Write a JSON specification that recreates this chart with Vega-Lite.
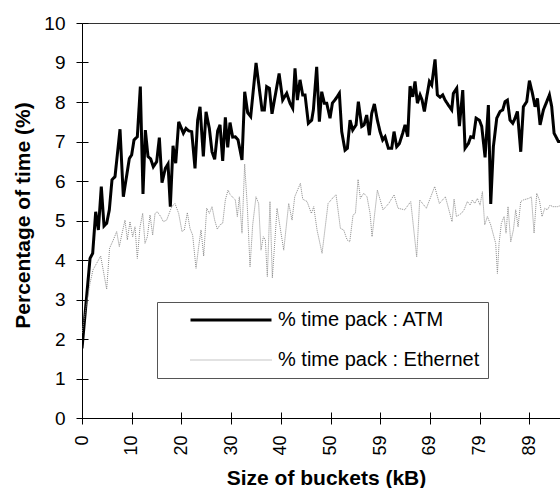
{
  "$schema": "https://vega.github.io/schema/vega-lite/v6.json",
  "width": 478,
  "height": 395,
  "autosize": {"type": "none"},
  "padding": {"left": 82, "top": 23, "right": 0, "bottom": 70},
  "background": "white",
  "config": {
    "view": {"stroke": null},
    "font": "Liberation Sans",
    "axis": {"domainColor": "#000000", "tickColor": "#000000", "labelColor": "#000000", "titleColor": "#000000", "grid": false, "labelFont": "Liberation Sans", "titleFont": "Liberation Sans"},
    "legend": {
      "orient": "none", "legendX": 75, "legendY": 279, "direction": "vertical",
      "fillColor": "#ffffff", "strokeColor": "#555555", "padding": 8,
      "symbolType": "stroke", "symbolSize": 6561, "clipHeight": 20, "rowPadding": 20,
      "symbolOffset": 24, "labelOffset": 5, "labelFontSize": 20, "labelFont": "Liberation Sans", "labelColor": "#000000", "labelLimit": 400
    }
  },
  "data": {"values": [
    {"series": "% time pack : ATM", "size": 0, "pct": 1.76},
    {"series": "% time pack : ATM", "size": 1.60, "pct": 4.04},
    {"series": "% time pack : ATM", "size": 2.13, "pct": 4.17},
    {"series": "% time pack : ATM", "size": 2.73, "pct": 5.22},
    {"series": "% time pack : ATM", "size": 3.26, "pct": 4.76},
    {"series": "% time pack : ATM", "size": 3.85, "pct": 5.86},
    {"series": "% time pack : ATM", "size": 4.39, "pct": 4.86},
    {"series": "% time pack : ATM", "size": 4.92, "pct": 4.93},
    {"series": "% time pack : ATM", "size": 5.45, "pct": 5.27},
    {"series": "% time pack : ATM", "size": 5.98, "pct": 6.03},
    {"series": "% time pack : ATM", "size": 6.58, "pct": 6.11},
    {"series": "% time pack : ATM", "size": 7.58, "pct": 7.31},
    {"series": "% time pack : ATM", "size": 8.24, "pct": 5.60},
    {"series": "% time pack : ATM", "size": 9.44, "pct": 6.57},
    {"series": "% time pack : ATM", "size": 9.90, "pct": 6.66},
    {"series": "% time pack : ATM", "size": 10.37, "pct": 7.04},
    {"series": "% time pack : ATM", "size": 11.03, "pct": 7.12},
    {"series": "% time pack : ATM", "size": 11.63, "pct": 8.39},
    {"series": "% time pack : ATM", "size": 12.16, "pct": 5.67},
    {"series": "% time pack : ATM", "size": 12.63, "pct": 7.29},
    {"series": "% time pack : ATM", "size": 13.16, "pct": 6.62},
    {"series": "% time pack : ATM", "size": 13.69, "pct": 6.56},
    {"series": "% time pack : ATM", "size": 14.22, "pct": 6.36},
    {"series": "% time pack : ATM", "size": 14.89, "pct": 6.49},
    {"series": "% time pack : ATM", "size": 15.42, "pct": 7.10},
    {"series": "% time pack : ATM", "size": 15.95, "pct": 5.96},
    {"series": "% time pack : ATM", "size": 16.62, "pct": 6.32},
    {"series": "% time pack : ATM", "size": 17.15, "pct": 6.43},
    {"series": "% time pack : ATM", "size": 17.61, "pct": 5.35},
    {"series": "% time pack : ATM", "size": 18.15, "pct": 6.89},
    {"series": "% time pack : ATM", "size": 18.68, "pct": 6.45},
    {"series": "% time pack : ATM", "size": 19.28, "pct": 7.50},
    {"series": "% time pack : ATM", "size": 20.21, "pct": 7.21},
    {"series": "% time pack : ATM", "size": 20.74, "pct": 7.33},
    {"series": "% time pack : ATM", "size": 21.27, "pct": 7.27},
    {"series": "% time pack : ATM", "size": 21.87, "pct": 7.25},
    {"series": "% time pack : ATM", "size": 22.53, "pct": 6.32},
    {"series": "% time pack : ATM", "size": 23.06, "pct": 7.54},
    {"series": "% time pack : ATM", "size": 23.53, "pct": 7.88},
    {"series": "% time pack : ATM", "size": 24.19, "pct": 6.62},
    {"series": "% time pack : ATM", "size": 24.73, "pct": 7.75},
    {"series": "% time pack : ATM", "size": 25.39, "pct": 7.33},
    {"series": "% time pack : ATM", "size": 25.92, "pct": 6.74},
    {"series": "% time pack : ATM", "size": 26.45, "pct": 6.55},
    {"series": "% time pack : ATM", "size": 27.05, "pct": 7.27},
    {"series": "% time pack : ATM", "size": 27.52, "pct": 7.42},
    {"series": "% time pack : ATM", "size": 28.05, "pct": 6.51},
    {"series": "% time pack : ATM", "size": 28.58, "pct": 7.61},
    {"series": "% time pack : ATM", "size": 29.05, "pct": 6.85},
    {"series": "% time pack : ATM", "size": 29.51, "pct": 7.48},
    {"series": "% time pack : ATM", "size": 30.04, "pct": 7.11},
    {"series": "% time pack : ATM", "size": 30.57, "pct": 7.12},
    {"series": "% time pack : ATM", "size": 31.11, "pct": 7.04},
    {"series": "% time pack : ATM", "size": 31.90, "pct": 6.53},
    {"series": "% time pack : ATM", "size": 32.44, "pct": 8.26},
    {"series": "% time pack : ATM", "size": 33.03, "pct": 7.73},
    {"series": "% time pack : ATM", "size": 33.63, "pct": 7.63},
    {"series": "% time pack : ATM", "size": 34.70, "pct": 8.99},
    {"series": "% time pack : ATM", "size": 35.89, "pct": 7.80},
    {"series": "% time pack : ATM", "size": 36.36, "pct": 7.80},
    {"series": "% time pack : ATM", "size": 36.82, "pct": 8.39},
    {"series": "% time pack : ATM", "size": 37.35, "pct": 8.35},
    {"series": "% time pack : ATM", "size": 37.88, "pct": 7.70},
    {"series": "% time pack : ATM", "size": 39.30, "pct": 8.72},
    {"series": "% time pack : ATM", "size": 40.01, "pct": 8.05},
    {"series": "% time pack : ATM", "size": 40.81, "pct": 8.22},
    {"series": "% time pack : ATM", "size": 41.47, "pct": 7.97},
    {"series": "% time pack : ATM", "size": 42.01, "pct": 7.84},
    {"series": "% time pack : ATM", "size": 42.47, "pct": 8.85},
    {"series": "% time pack : ATM", "size": 42.94, "pct": 8.05},
    {"series": "% time pack : ATM", "size": 43.47, "pct": 8.56},
    {"series": "% time pack : ATM", "size": 44.00, "pct": 8.18},
    {"series": "% time pack : ATM", "size": 44.47, "pct": 8.18},
    {"series": "% time pack : ATM", "size": 45.13, "pct": 7.46},
    {"series": "% time pack : ATM", "size": 45.79, "pct": 7.54},
    {"series": "% time pack : ATM", "size": 46.13, "pct": 7.80},
    {"series": "% time pack : ATM", "size": 46.79, "pct": 8.89},
    {"series": "% time pack : ATM", "size": 47.32, "pct": 7.50},
    {"series": "% time pack : ATM", "size": 47.79, "pct": 8.26},
    {"series": "% time pack : ATM", "size": 48.32, "pct": 7.97},
    {"series": "% time pack : ATM", "size": 48.79, "pct": 7.97},
    {"series": "% time pack : ATM", "size": 49.45, "pct": 7.59},
    {"series": "% time pack : ATM", "size": 49.92, "pct": 7.97},
    {"series": "% time pack : ATM", "size": 50.65, "pct": 8.09},
    {"series": "% time pack : ATM", "size": 51.31, "pct": 8.22},
    {"series": "% time pack : ATM", "size": 51.78, "pct": 7.25},
    {"series": "% time pack : ATM", "size": 52.44, "pct": 6.78},
    {"series": "% time pack : ATM", "size": 52.91, "pct": 6.83},
    {"series": "% time pack : ATM", "size": 53.44, "pct": 7.54},
    {"series": "% time pack : ATM", "size": 53.97, "pct": 7.29},
    {"series": "% time pack : ATM", "size": 54.64, "pct": 7.42},
    {"series": "% time pack : ATM", "size": 55.10, "pct": 8.01},
    {"series": "% time pack : ATM", "size": 55.77, "pct": 7.38},
    {"series": "% time pack : ATM", "size": 56.23, "pct": 7.42},
    {"series": "% time pack : ATM", "size": 56.76, "pct": 7.67},
    {"series": "% time pack : ATM", "size": 57.29, "pct": 7.16},
    {"series": "% time pack : ATM", "size": 57.76, "pct": 7.71},
    {"series": "% time pack : ATM", "size": 58.29, "pct": 7.95},
    {"series": "% time pack : ATM", "size": 58.89, "pct": 7.54},
    {"series": "% time pack : ATM", "size": 59.42, "pct": 7.25},
    {"series": "% time pack : ATM", "size": 59.95, "pct": 7.04},
    {"series": "% time pack : ATM", "size": 60.42, "pct": 7.12},
    {"series": "% time pack : ATM", "size": 61.08, "pct": 6.83},
    {"series": "% time pack : ATM", "size": 61.75, "pct": 6.83},
    {"series": "% time pack : ATM", "size": 62.21, "pct": 7.25},
    {"series": "% time pack : ATM", "size": 62.74, "pct": 6.87},
    {"series": "% time pack : ATM", "size": 63.28, "pct": 6.95},
    {"series": "% time pack : ATM", "size": 63.94, "pct": 7.21},
    {"series": "% time pack : ATM", "size": 64.41, "pct": 7.42},
    {"series": "% time pack : ATM", "size": 64.94, "pct": 7.12},
    {"series": "% time pack : ATM", "size": 65.40, "pct": 8.40},
    {"series": "% time pack : ATM", "size": 65.94, "pct": 8.13},
    {"series": "% time pack : ATM", "size": 66.40, "pct": 8.52},
    {"series": "% time pack : ATM", "size": 66.87, "pct": 7.97},
    {"series": "% time pack : ATM", "size": 67.40, "pct": 8.18},
    {"series": "% time pack : ATM", "size": 67.80, "pct": 8.05},
    {"series": "% time pack : ATM", "size": 68.26, "pct": 7.76},
    {"series": "% time pack : ATM", "size": 68.73, "pct": 8.13},
    {"series": "% time pack : ATM", "size": 69.26, "pct": 8.52},
    {"series": "% time pack : ATM", "size": 69.72, "pct": 8.43},
    {"series": "% time pack : ATM", "size": 70.39, "pct": 9.08},
    {"series": "% time pack : ATM", "size": 70.85, "pct": 8.18},
    {"series": "% time pack : ATM", "size": 71.39, "pct": 8.12},
    {"series": "% time pack : ATM", "size": 71.92, "pct": 8.18},
    {"series": "% time pack : ATM", "size": 72.38, "pct": 8.05},
    {"series": "% time pack : ATM", "size": 73.05, "pct": 7.92},
    {"series": "% time pack : ATM", "size": 73.71, "pct": 7.80},
    {"series": "% time pack : ATM", "size": 74.04, "pct": 8.22},
    {"series": "% time pack : ATM", "size": 74.71, "pct": 8.35},
    {"series": "% time pack : ATM", "size": 75.24, "pct": 7.39},
    {"series": "% time pack : ATM", "size": 75.91, "pct": 8.30},
    {"series": "% time pack : ATM", "size": 76.37, "pct": 6.83},
    {"series": "% time pack : ATM", "size": 77.04, "pct": 6.95},
    {"series": "% time pack : ATM", "size": 77.50, "pct": 7.12},
    {"series": "% time pack : ATM", "size": 78.03, "pct": 7.10},
    {"series": "% time pack : ATM", "size": 78.57, "pct": 7.59},
    {"series": "% time pack : ATM", "size": 79.23, "pct": 7.54},
    {"series": "% time pack : ATM", "size": 79.70, "pct": 7.38},
    {"series": "% time pack : ATM", "size": 80.36, "pct": 6.60},
    {"series": "% time pack : ATM", "size": 81.02, "pct": 7.92},
    {"series": "% time pack : ATM", "size": 81.49, "pct": 5.42},
    {"series": "% time pack : ATM", "size": 82.02, "pct": 6.87},
    {"series": "% time pack : ATM", "size": 82.69, "pct": 7.59},
    {"series": "% time pack : ATM", "size": 83.35, "pct": 7.76},
    {"series": "% time pack : ATM", "size": 83.88, "pct": 7.80},
    {"series": "% time pack : ATM", "size": 84.35, "pct": 8.01},
    {"series": "% time pack : ATM", "size": 84.81, "pct": 8.05},
    {"series": "% time pack : ATM", "size": 85.34, "pct": 7.54},
    {"series": "% time pack : ATM", "size": 85.88, "pct": 7.46},
    {"series": "% time pack : ATM", "size": 86.34, "pct": 7.59},
    {"series": "% time pack : ATM", "size": 86.81, "pct": 7.76},
    {"series": "% time pack : ATM", "size": 87.47, "pct": 6.74},
    {"series": "% time pack : ATM", "size": 88.00, "pct": 7.88},
    {"series": "% time pack : ATM", "size": 88.67, "pct": 8.01},
    {"series": "% time pack : ATM", "size": 89.20, "pct": 8.54},
    {"series": "% time pack : ATM", "size": 89.80, "pct": 8.22},
    {"series": "% time pack : ATM", "size": 90.33, "pct": 7.88},
    {"series": "% time pack : ATM", "size": 90.80, "pct": 8.09},
    {"series": "% time pack : ATM", "size": 91.33, "pct": 7.42},
    {"series": "% time pack : ATM", "size": 91.99, "pct": 7.80},
    {"series": "% time pack : ATM", "size": 92.66, "pct": 8.01},
    {"series": "% time pack : ATM", "size": 93.19, "pct": 8.18},
    {"series": "% time pack : ATM", "size": 93.65, "pct": 7.88},
    {"series": "% time pack : ATM", "size": 94.12, "pct": 7.21},
    {"series": "% time pack : ATM", "size": 94.98, "pct": 7.00},
    {"series": "% time pack : ATM", "size": 95.60, "pct": 7.00},
    {"series": "% time pack : Ethernet", "size": 0, "pct": 2.15},
    {"series": "% time pack : Ethernet", "size": 0.93, "pct": 2.90},
    {"series": "% time pack : Ethernet", "size": 1.60, "pct": 3.41},
    {"series": "% time pack : Ethernet", "size": 2.19, "pct": 3.75},
    {"series": "% time pack : Ethernet", "size": 3.72, "pct": 4.10},
    {"series": "% time pack : Ethernet", "size": 4.92, "pct": 3.26},
    {"series": "% time pack : Ethernet", "size": 5.50, "pct": 4.30},
    {"series": "% time pack : Ethernet", "size": 6.25, "pct": 4.51},
    {"series": "% time pack : Ethernet", "size": 6.91, "pct": 4.72},
    {"series": "% time pack : Ethernet", "size": 7.44, "pct": 4.34},
    {"series": "% time pack : Ethernet", "size": 7.91, "pct": 4.63},
    {"series": "% time pack : Ethernet", "size": 8.57, "pct": 5.01},
    {"series": "% time pack : Ethernet", "size": 9.04, "pct": 4.51},
    {"series": "% time pack : Ethernet", "size": 9.57, "pct": 4.97},
    {"series": "% time pack : Ethernet", "size": 10.10, "pct": 4.59},
    {"series": "% time pack : Ethernet", "size": 10.57, "pct": 4.84},
    {"series": "% time pack : Ethernet", "size": 11.03, "pct": 4.04},
    {"series": "% time pack : Ethernet", "size": 11.57, "pct": 4.84},
    {"series": "% time pack : Ethernet", "size": 12.10, "pct": 5.18},
    {"series": "% time pack : Ethernet", "size": 12.56, "pct": 4.42},
    {"series": "% time pack : Ethernet", "size": 13.03, "pct": 4.59},
    {"series": "% time pack : Ethernet", "size": 13.56, "pct": 5.14},
    {"series": "% time pack : Ethernet", "size": 14.09, "pct": 4.63},
    {"series": "% time pack : Ethernet", "size": 14.56, "pct": 5.18},
    {"series": "% time pack : Ethernet", "size": 15.02, "pct": 5.22},
    {"series": "% time pack : Ethernet", "size": 15.69, "pct": 5.10},
    {"series": "% time pack : Ethernet", "size": 16.22, "pct": 4.97},
    {"series": "% time pack : Ethernet", "size": 16.88, "pct": 5.01},
    {"series": "% time pack : Ethernet", "size": 17.88, "pct": 5.35},
    {"series": "% time pack : Ethernet", "size": 18.54, "pct": 5.43},
    {"series": "% time pack : Ethernet", "size": 19.27, "pct": 5.18},
    {"series": "% time pack : Ethernet", "size": 19.94, "pct": 4.72},
    {"series": "% time pack : Ethernet", "size": 20.40, "pct": 4.76},
    {"series": "% time pack : Ethernet", "size": 21.00, "pct": 5.20},
    {"series": "% time pack : Ethernet", "size": 21.53, "pct": 4.80},
    {"series": "% time pack : Ethernet", "size": 22.06, "pct": 4.63},
    {"series": "% time pack : Ethernet", "size": 22.73, "pct": 3.79},
    {"series": "% time pack : Ethernet", "size": 23.26, "pct": 4.34},
    {"series": "% time pack : Ethernet", "size": 23.73, "pct": 4.76},
    {"series": "% time pack : Ethernet", "size": 24.26, "pct": 4.10},
    {"series": "% time pack : Ethernet", "size": 24.86, "pct": 5.31},
    {"series": "% time pack : Ethernet", "size": 25.39, "pct": 5.18},
    {"series": "% time pack : Ethernet", "size": 25.92, "pct": 5.35},
    {"series": "% time pack : Ethernet", "size": 26.45, "pct": 5.01},
    {"series": "% time pack : Ethernet", "size": 26.98, "pct": 4.78},
    {"series": "% time pack : Ethernet", "size": 27.51, "pct": 4.89},
    {"series": "% time pack : Ethernet", "size": 28.05, "pct": 4.93},
    {"series": "% time pack : Ethernet", "size": 28.58, "pct": 5.52},
    {"series": "% time pack : Ethernet", "size": 29.11, "pct": 5.77},
    {"series": "% time pack : Ethernet", "size": 29.57, "pct": 5.65},
    {"series": "% time pack : Ethernet", "size": 30.04, "pct": 5.59},
    {"series": "% time pack : Ethernet", "size": 30.57, "pct": 5.52},
    {"series": "% time pack : Ethernet", "size": 30.97, "pct": 5.10},
    {"series": "% time pack : Ethernet", "size": 31.37, "pct": 5.60},
    {"series": "% time pack : Ethernet", "size": 31.90, "pct": 4.68},
    {"series": "% time pack : Ethernet", "size": 32.43, "pct": 6.43},
    {"series": "% time pack : Ethernet", "size": 32.96, "pct": 5.35},
    {"series": "% time pack : Ethernet", "size": 33.50, "pct": 3.83},
    {"series": "% time pack : Ethernet", "size": 34.03, "pct": 4.89},
    {"series": "% time pack : Ethernet", "size": 34.69, "pct": 5.60},
    {"series": "% time pack : Ethernet", "size": 35.22, "pct": 5.43},
    {"series": "% time pack : Ethernet", "size": 35.69, "pct": 4.25},
    {"series": "% time pack : Ethernet", "size": 36.16, "pct": 4.59},
    {"series": "% time pack : Ethernet", "size": 36.55, "pct": 4.51},
    {"series": "% time pack : Ethernet", "size": 36.95, "pct": 3.58},
    {"series": "% time pack : Ethernet", "size": 37.48, "pct": 5.48},
    {"series": "% time pack : Ethernet", "size": 37.95, "pct": 3.55},
    {"series": "% time pack : Ethernet", "size": 38.89, "pct": 5.31},
    {"series": "% time pack : Ethernet", "size": 40.22, "pct": 4.25},
    {"series": "% time pack : Ethernet", "size": 41.21, "pct": 5.43},
    {"series": "% time pack : Ethernet", "size": 41.88, "pct": 5.01},
    {"series": "% time pack : Ethernet", "size": 42.41, "pct": 5.60},
    {"series": "% time pack : Ethernet", "size": 43.54, "pct": 5.94},
    {"series": "% time pack : Ethernet", "size": 44.01, "pct": 5.54},
    {"series": "% time pack : Ethernet", "size": 44.87, "pct": 5.48},
    {"series": "% time pack : Ethernet", "size": 45.73, "pct": 5.18},
    {"series": "% time pack : Ethernet", "size": 46.20, "pct": 5.35},
    {"series": "% time pack : Ethernet", "size": 46.86, "pct": 4.76},
    {"series": "% time pack : Ethernet", "size": 47.86, "pct": 4.17},
    {"series": "% time pack : Ethernet", "size": 49.06, "pct": 5.43},
    {"series": "% time pack : Ethernet", "size": 50.19, "pct": 5.60},
    {"series": "% time pack : Ethernet", "size": 50.65, "pct": 5.65},
    {"series": "% time pack : Ethernet", "size": 51.52, "pct": 4.80},
    {"series": "% time pack : Ethernet", "size": 52.18, "pct": 4.76},
    {"series": "% time pack : Ethernet", "size": 52.85, "pct": 4.51},
    {"series": "% time pack : Ethernet", "size": 53.38, "pct": 4.46},
    {"series": "% time pack : Ethernet", "size": 54.04, "pct": 5.14},
    {"series": "% time pack : Ethernet", "size": 54.51, "pct": 5.18},
    {"series": "% time pack : Ethernet", "size": 55.04, "pct": 6.04},
    {"series": "% time pack : Ethernet", "size": 55.50, "pct": 5.56},
    {"series": "% time pack : Ethernet", "size": 56.17, "pct": 5.69},
    {"series": "% time pack : Ethernet", "size": 56.83, "pct": 5.60},
    {"series": "% time pack : Ethernet", "size": 57.43, "pct": 5.18},
    {"series": "% time pack : Ethernet", "size": 57.83, "pct": 4.59},
    {"series": "% time pack : Ethernet", "size": 58.89, "pct": 5.77},
    {"series": "% time pack : Ethernet", "size": 60.02, "pct": 5.27},
    {"series": "% time pack : Ethernet", "size": 61.15, "pct": 5.43},
    {"series": "% time pack : Ethernet", "size": 62.21, "pct": 5.65},
    {"series": "% time pack : Ethernet", "size": 63.01, "pct": 5.31},
    {"series": "% time pack : Ethernet", "size": 64.34, "pct": 5.27},
    {"series": "% time pack : Ethernet", "size": 65.54, "pct": 5.48},
    {"series": "% time pack : Ethernet", "size": 66.73, "pct": 4.08},
    {"series": "% time pack : Ethernet", "size": 67.33, "pct": 5.52},
    {"series": "% time pack : Ethernet", "size": 68.66, "pct": 5.31},
    {"series": "% time pack : Ethernet", "size": 70.32, "pct": 5.86},
    {"series": "% time pack : Ethernet", "size": 71.25, "pct": 5.43},
    {"series": "% time pack : Ethernet", "size": 72.45, "pct": 5.60},
    {"series": "% time pack : Ethernet", "size": 73.78, "pct": 4.97},
    {"series": "% time pack : Ethernet", "size": 74.18, "pct": 5.54},
    {"series": "% time pack : Ethernet", "size": 74.65, "pct": 5.10},
    {"series": "% time pack : Ethernet", "size": 75.64, "pct": 5.18},
    {"series": "% time pack : Ethernet", "size": 76.17, "pct": 5.27},
    {"series": "% time pack : Ethernet", "size": 76.83, "pct": 5.48},
    {"series": "% time pack : Ethernet", "size": 77.37, "pct": 5.39},
    {"series": "% time pack : Ethernet", "size": 77.83, "pct": 5.52},
    {"series": "% time pack : Ethernet", "size": 78.30, "pct": 5.43},
    {"series": "% time pack : Ethernet", "size": 78.83, "pct": 5.56},
    {"series": "% time pack : Ethernet", "size": 79.36, "pct": 5.39},
    {"series": "% time pack : Ethernet", "size": 79.83, "pct": 5.73},
    {"series": "% time pack : Ethernet", "size": 80.29, "pct": 4.89},
    {"series": "% time pack : Ethernet", "size": 80.82, "pct": 5.10},
    {"series": "% time pack : Ethernet", "size": 81.49, "pct": 4.89},
    {"series": "% time pack : Ethernet", "size": 82.48, "pct": 4.42},
    {"series": "% time pack : Ethernet", "size": 82.82, "pct": 3.66},
    {"series": "% time pack : Ethernet", "size": 83.15, "pct": 4.42},
    {"series": "% time pack : Ethernet", "size": 83.61, "pct": 4.93},
    {"series": "% time pack : Ethernet", "size": 84.15, "pct": 5.10},
    {"series": "% time pack : Ethernet", "size": 84.54, "pct": 4.68},
    {"series": "% time pack : Ethernet", "size": 84.94, "pct": 5.35},
    {"series": "% time pack : Ethernet", "size": 85.48, "pct": 4.46},
    {"series": "% time pack : Ethernet", "size": 86.01, "pct": 4.76},
    {"series": "% time pack : Ethernet", "size": 86.47, "pct": 5.27},
    {"series": "% time pack : Ethernet", "size": 86.94, "pct": 4.84},
    {"series": "% time pack : Ethernet", "size": 87.47, "pct": 5.48},
    {"series": "% time pack : Ethernet", "size": 88.00, "pct": 5.52},
    {"series": "% time pack : Ethernet", "size": 89.07, "pct": 5.56},
    {"series": "% time pack : Ethernet", "size": 89.60, "pct": 5.60},
    {"series": "% time pack : Ethernet", "size": 90.13, "pct": 4.68},
    {"series": "% time pack : Ethernet", "size": 90.66, "pct": 5.69},
    {"series": "% time pack : Ethernet", "size": 91.19, "pct": 5.52},
    {"series": "% time pack : Ethernet", "size": 91.72, "pct": 5.10},
    {"series": "% time pack : Ethernet", "size": 92.26, "pct": 5.31},
    {"series": "% time pack : Ethernet", "size": 92.79, "pct": 5.27},
    {"series": "% time pack : Ethernet", "size": 93.32, "pct": 5.39},
    {"series": "% time pack : Ethernet", "size": 93.85, "pct": 5.35},
    {"series": "% time pack : Ethernet", "size": 94.78, "pct": 5.35},
    {"series": "% time pack : Ethernet", "size": 95.71, "pct": 5.39}
  ]},
  "layer": [
    {
      "mark": {"type": "line", "clip": true},
      "encoding": {
        "x": {"field": "size", "type": "quantitative",
          "scale": {"domain": [0, 95.3], "nice": false, "zero": false},
          "axis": {"orient": "bottom", "values": [0, 9.91, 19.82, 29.73, 39.64, 49.55, 59.46, 69.37, 79.28, 89.19], "format": ".0f",
            "labelAngle": 270, "labelFontSize": 18, "labelPadding": 11, "labelFlush": false, "labelOverlap": false,
            "tickSize": 6, "domainWidth": 1,
            "title": "Size of buckets (kB)", "titleFontSize": 21, "titleFontWeight": "bold", "titleY": 66, "titleX": 244, "titleBaseline": "alphabetic"}},
        "y": {"field": "pct", "type": "quantitative",
          "scale": {"domain": [0, 10], "nice": false},
          "axis": {"orient": "left", "values": [0, 1, 2, 3, 4, 5, 6, 7, 8, 9, 10], "labelFontSize": 19, "labelPadding": 11, "labelFlush": false, "labelOverlap": false,
            "tickSize": 6,
            "title": "Percentage of time (%)", "titleFontSize": 21, "titleFontWeight": "bold", "titleX": -53, "titleY": 192, "titleBaseline": "alphabetic", "titleAngle": 270}},
        "color": {"field": "series", "type": "nominal", "title": null,
          "scale": {"domain": ["% time pack : ATM", "% time pack : Ethernet"], "range": ["#000000", "#8a8a8a"]}},
        "strokeWidth": {"field": "series", "type": "nominal", "title": null,
          "scale": {"domain": ["% time pack : ATM", "% time pack : Ethernet"], "range": [3, 1]}},
        "strokeDash": {"field": "series", "type": "nominal", "title": null,
          "scale": {"domain": ["% time pack : ATM", "% time pack : Ethernet"], "range": [[1, 0], [1, 1]]}}
      }
    },
    {
      "mark": {"type": "point", "opacity": 0},
      "encoding": {
        "x": {"field": "size", "type": "quantitative",
          "axis": {"orient": "bottom", "values": [0, 9.91, 19.82, 29.73, 39.64, 49.55, 59.46, 69.37, 79.28, 89.19], "labels": false, "domain": false, "tickSize": -6, "title": null}},
        "y": {"field": "pct", "type": "quantitative",
          "axis": {"orient": "left", "values": [0, 1, 2, 3, 4, 5, 6, 7, 8, 9, 10], "labels": false, "domain": false, "tickSize": -6, "title": null}}
      }
    },
    {
      "mark": {"type": "point", "opacity": 0},
      "encoding": {
        "x": {"field": "size", "type": "quantitative",
          "axis": {"orient": "top", "labels": false, "ticks": false, "domain": true, "domainColor": "#333333", "title": null}},
        "y": {"field": "pct", "type": "quantitative", "axis": null}
      }
    }
  ],
  "resolve": {"axis": {"x": "independent", "y": "independent"}}
}
